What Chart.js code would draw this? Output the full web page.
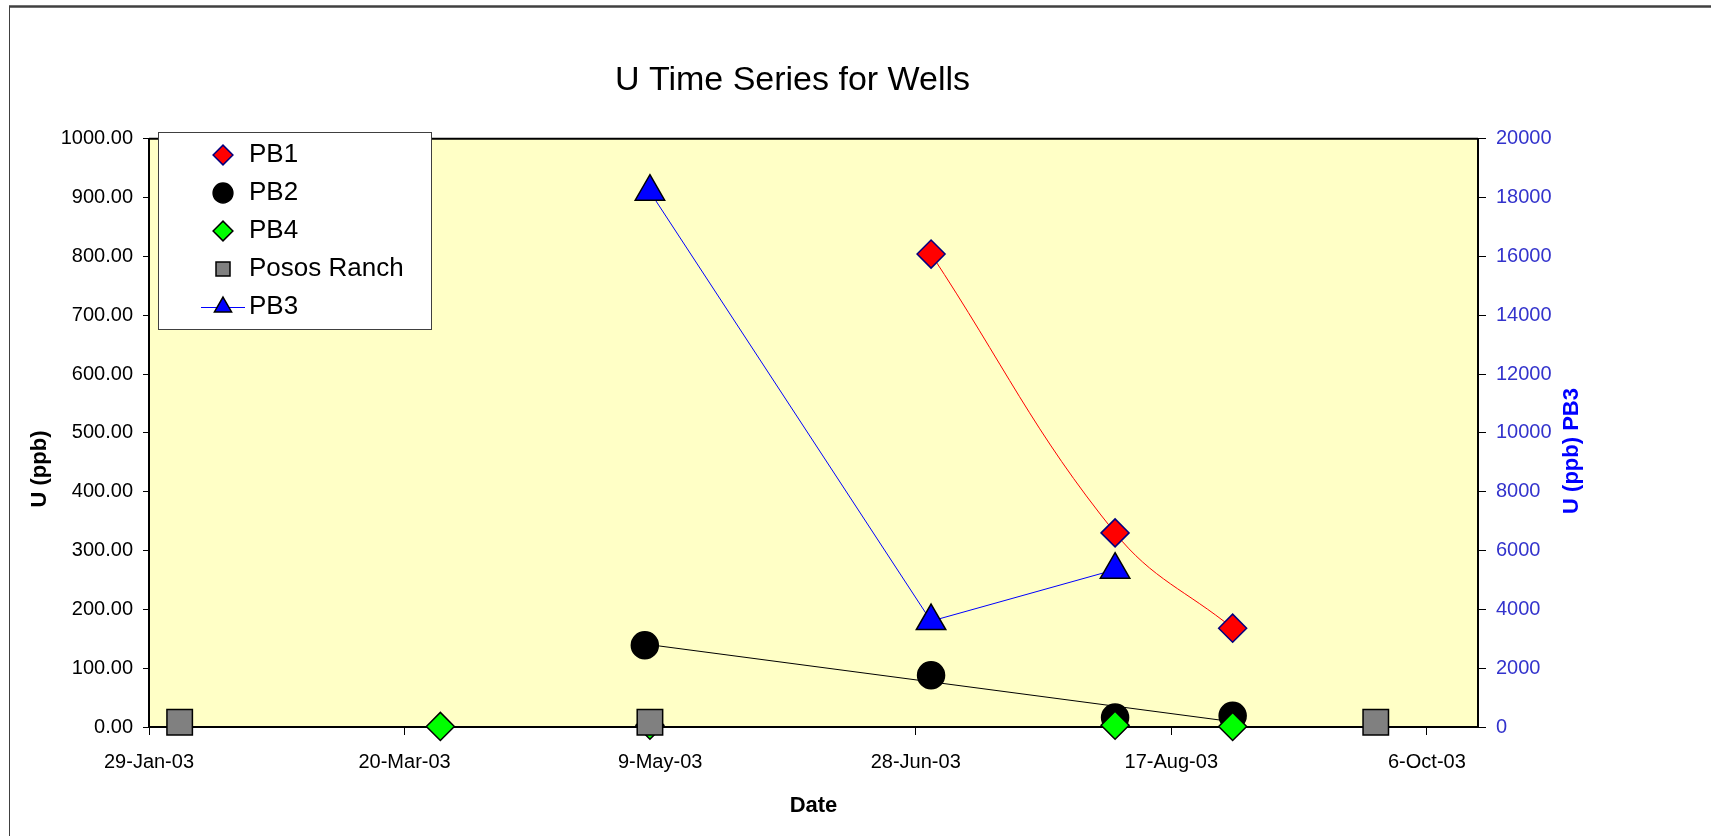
<!DOCTYPE html>
<html>
<head>
<meta charset="utf-8">
<title>U Time Series for Wells</title>
<script src="https://cdn.jsdelivr.net/npm/chart.js@4.4.1/dist/chart.umd.min.js"></script>
<style>
  html, body { margin: 0; padding: 0; background: #fff; overflow: hidden; }
  #wrap { position: relative; width: 1711px; height: 836px; }
</style>
</head>
<body>
<div id="wrap"><canvas id="wellsChart"></canvas></div>
<script>
// sample dates and U (ppb) per well
const pb1Dates = ["2003-07-01", "2003-08-06", "2003-08-29"];
const pb1Values = [804, 330, 168];
const pb2Dates = ["2003-05-06", "2003-07-01", "2003-08-06", "2003-08-29"];
const pb2Values = [139, 88, 16, 19];
const pb4Dates = ["2003-03-27", "2003-05-07", "2003-08-06", "2003-08-29"];
const pb4Values = [1, 3, 3, 1];
const pososDates = ["2003-02-04", "2003-05-07", "2003-09-26"];
const pososValues = [8, 8, 8];
// PB3 goes on the right axis
const pb3Dates = ["2003-05-07", "2003-07-01", "2003-08-06"];
const pb3Values = [18200, 3600, 5350];
// linear trendline on PB2 (end points)
const pb2TrendDates = ["2003-05-06", "2003-08-29"];
const pb2TrendValues = [141, 9];

const xTickDates = ["2003-01-29", "2003-03-20", "2003-05-09", "2003-06-28", "2003-08-17", "2003-10-06"];
const xMinDate = "2003-01-29";
const xMaxDate = "2003-10-16";
const monthNames = ["Jan", "Feb", "Mar", "Apr", "May", "Jun", "Jul", "Aug", "Sep", "Oct", "Nov", "Dec"];

const FONT = "'Liberation Sans', Arial, sans-serif";
Chart.defaults.font.family = FONT;

// excel style day numbers, so the axis runs in whole days
function toSerial(d) {
  const [y, m, day] = d.split("-").map(Number);
  return (Date.UTC(y, m - 1, day) - Date.UTC(1899, 11, 30)) / 86400000;
}
function fmtDate(serial) {
  const dt = new Date(Date.UTC(1899, 11, 30) + serial * 86400000);
  return dt.getUTCDate() + "-" + monthNames[dt.getUTCMonth()] + "-" + String(dt.getUTCFullYear()).slice(2);
}
function points(dates, values) {
  return dates.map((d, i) => ({ x: toSerial(d), y: values[i] }));
}

const legendBox = { x: 158, y: 132, w: 273, h: 197 };

function axisTitle(ctx, text, x, y, color) {
  ctx.save();
  ctx.translate(x, y);
  ctx.rotate(-Math.PI / 2);
  ctx.font = "bold 22px " + FONT;
  ctx.fillStyle = color;
  ctx.textAlign = "center";
  ctx.textBaseline = "middle";
  ctx.fillText(text, 0, 0);
  ctx.restore();
}

const framePlugin = {
  id: "frame",
  afterLayout(chart) {
    // float the legend over the top left of the plot like the sheet does
    chart.legend.left = 198;
    chart.legend.top = 130;
  },
  beforeDraw(chart) {
    const { ctx, chartArea: a } = chart;
    ctx.save();
    ctx.fillStyle = "#fff";
    ctx.fillRect(0, 0, chart.width, chart.height);

    ctx.strokeStyle = "#404040";
    ctx.lineWidth = 2.5;
    ctx.beginPath();
    ctx.moveTo(9, 6.5);
    ctx.lineTo(chart.width, 6.5);
    ctx.stroke();
    ctx.lineWidth = 1;
    ctx.beginPath();
    ctx.moveTo(9.5, 6);
    ctx.lineTo(9.5, chart.height);
    ctx.stroke();

    ctx.fillStyle = "#FFFFC6";
    ctx.fillRect(a.left, a.top, a.right - a.left, a.bottom - a.top);
    ctx.strokeStyle = "#000";
    ctx.lineWidth = 2;
    ctx.beginPath();
    ctx.moveTo(a.left, a.top);
    ctx.lineTo(a.right, a.top);
    ctx.stroke();

    ctx.fillStyle = "#fff";
    ctx.fillRect(legendBox.x, legendBox.y, legendBox.w, legendBox.h);
    ctx.strokeStyle = "#404040";
    ctx.lineWidth = 1;
    ctx.strokeRect(legendBox.x + 0.5, legendBox.y + 0.5, legendBox.w, legendBox.h);

    // PB3 is the only series with a line in the legend
    const hb = chart.legend.legendHitBoxes[4];
    if (hb) {
      const cx = hb.left + 13;
      const cy = hb.top + hb.height / 2;
      ctx.strokeStyle = "#0000FF";
      ctx.beginPath();
      ctx.moveTo(cx - 22, cy + 0.5);
      ctx.lineTo(cx + 22, cy + 0.5);
      ctx.stroke();
    }
    ctx.restore();
  },
  afterDraw(chart) {
    // axis titles sit a bit below the middle of the plot in the sheet
    axisTitle(chart.ctx, "U (ppb)", 40, 469, "#000");
    axisTitle(chart.ctx, "U (ppb) PB3", chart.scales.y1.right - 13, 451, "#0000FF");
  },
};

new Chart(document.getElementById("wellsChart"), {
  type: "scatter",
  data: {
    datasets: [
      {
        label: "PB1",
        data: points(pb1Dates, pb1Values),
        showLine: true,
        borderColor: "#FF0000",
        borderWidth: 1,
        tension: 0.4,
        pointStyle: "rectRot",
        pointRadius: 14,
        pointBackgroundColor: "#FF0000",
        pointBorderColor: "#000080",
        pointBorderWidth: 1.5,
        clip: false,
        order: 3,
      },
      {
        label: "PB2",
        data: points(pb2Dates, pb2Values),
        pointStyle: "circle",
        pointRadius: 13.5,
        pointBackgroundColor: "#000",
        pointBorderColor: "#000",
        pointBorderWidth: 1.5,
        clip: false,
        order: 2,
      },
      {
        label: "PB4",
        data: points(pb4Dates, pb4Values),
        pointStyle: "rectRot",
        pointRadius: 14,
        pointBackgroundColor: "#00FF00",
        pointBorderColor: "#000",
        pointBorderWidth: 1.5,
        clip: false,
        order: 1,
      },
      {
        label: "Posos Ranch",
        data: points(pososDates, pososValues),
        pointStyle: "rect",
        pointRadius: 18,
        pointBackgroundColor: "#808080",
        pointBorderColor: "#000",
        pointBorderWidth: 1.5,
        clip: false,
        order: 0,
      },
      {
        label: "PB3",
        data: points(pb3Dates, pb3Values),
        yAxisID: "y1",
        showLine: true,
        borderColor: "#0000FF",
        borderWidth: 1,
        pointStyle: "triangle",
        pointRadius: 17,
        pointBackgroundColor: "#0000FF",
        pointBorderColor: "#000",
        pointBorderWidth: 1.5,
        clip: false,
        order: 4,
      },
      {
        label: "PB2 trend",
        data: points(pb2TrendDates, pb2TrendValues),
        showLine: true,
        borderColor: "#000",
        borderWidth: 1,
        pointRadius: 0,
        clip: false,
        order: 5,
      },
    ],
  },
  options: {
    responsive: true,
    maintainAspectRatio: false,
    animation: false,
    events: [],
    layout: { padding: { left: 0, right: 126, top: 0, bottom: 0 } },
    plugins: {
      title: {
        display: true,
        text: "U Time Series for Wells",
        color: "#000",
        font: { size: 34, weight: "normal" },
        padding: { top: 60, bottom: 38 },
      },
      legend: {
        position: "chartArea",
        align: "start",
        labels: {
          usePointStyle: true,
          boxHeight: 14,
          padding: 12,
          color: "#000",
          font: { size: 26 },
          filter: (item) => item.datasetIndex < 5,
          sort: (a, b) => a.datasetIndex - b.datasetIndex,
        },
      },
      tooltip: { enabled: false },
    },
    scales: {
      x: {
        type: "linear",
        position: "bottom",
        min: toSerial(xMinDate),
        max: toSerial(xMaxDate),
        afterBuildTicks: (scale) => {
          scale.ticks = xTickDates.map((d) => ({ value: toSerial(d) }));
        },
        afterFit: (scale) => {
          scale.height = 109;
        },
        grid: { drawOnChartArea: false, tickLength: 8, tickColor: "#000" },
        border: { display: true, color: "#000", width: 2 },
        ticks: {
          callback: (v) => fmtDate(v),
          color: "#000",
          font: { size: 20 },
          padding: 15,
          maxRotation: 0,
          autoSkip: false,
        },
        title: {
          display: true,
          text: "Date",
          color: "#000",
          font: { size: 22, weight: "bold" },
          padding: { top: 0, bottom: 17 },
        },
      },
      y: {
        position: "left",
        min: 0,
        max: 1000,
        afterFit: (scale) => {
          scale.width = 149;
        },
        grid: { drawOnChartArea: false, tickLength: 6, tickColor: "#000" },
        border: { display: true, color: "#000", width: 2 },
        ticks: {
          stepSize: 100,
          callback: (v) => v.toFixed(2),
          color: "#000",
          font: { size: 20 },
          padding: 10,
        },
      },
      y1: {
        position: "right",
        min: 0,
        max: 20000,
        afterFit: (scale) => {
          scale.width = 107;
        },
        grid: { drawOnChartArea: false, tickLength: 8, tickColor: "#000" },
        border: { display: true, color: "#000", width: 2 },
        ticks: {
          stepSize: 2000,
          callback: (v) => String(v),
          color: "#3333CC",
          font: { size: 20 },
          padding: 10,
        },
      },
    },
  },
  plugins: [framePlugin],
});
</script>
</body>
</html>
